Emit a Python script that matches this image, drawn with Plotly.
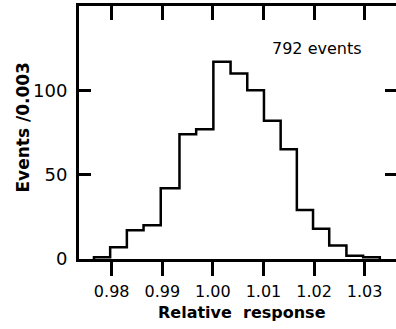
import plotly.graph_objects as go

# Bin edges (relative response) and counts
bin_edges = [0.9765, 0.9797, 0.9830, 0.9863, 0.9897, 0.9934, 0.9967, 1.0001, 1.0035,
             1.0068, 1.0101, 1.0134, 1.0166, 1.0198, 1.0230, 1.0264, 1.0297, 1.0330]
counts = [1, 7, 17, 20, 42, 74, 77, 117, 110, 100, 82, 65, 29, 18, 8, 2, 1]

x_tickvals = [0.98, 0.99, 1.00, 1.01, 1.02, 1.03]
x_ticktext = ["0.98", "0.99", "1.00", "1.01", "1.02", "1.03"]
y_tickvals = [0, 50, 100]
y_ticktext = ["0", "50", "100"]
x_range = [0.97354, 1.0362]
y_range = [0, 150]

FONT = "DejaVu Sans"

# step outline: start at baseline, then hv steps, drop to baseline at last edge
xs = [bin_edges[0]] + bin_edges
ys = [0] + counts + [0]

fig = go.Figure()
fig.add_trace(go.Scatter(x=xs, y=ys, mode="lines", line=dict(shape="hv", color="black", width=2.5),
                         hoverinfo="skip", showlegend=False))
fig.add_trace(go.Scatter(x=[], y=[], xaxis="x2", yaxis="y2", showlegend=False))

fig.add_annotation(x=1.0206, y=125, xref="x", yref="y", text="792 events", showarrow=False,
                   font=dict(family=FONT, size=16, color="black"))
fig.add_annotation(x=0.5155, y=-0.2134, xref="paper", yref="paper", text="Relative  response",
                   showarrow=False, xanchor="center", yanchor="middle",
                   font=dict(family=FONT, size=16, color="black", weight="bold"))
fig.add_annotation(x=-0.178, y=0.518, xref="paper", yref="paper", text="Events /0.003",
                   showarrow=False, xanchor="center", yanchor="middle", textangle=-90,
                   font=dict(family=FONT, size=17, color="black", weight="bold"))

fig.update_layout(
    width=396, height=329,
    margin=dict(l=79, r=0, t=6, b=70, autoexpand=False),
    paper_bgcolor="white", plot_bgcolor="white",
    font=dict(family=FONT, color="black"),
    xaxis=dict(range=x_range, tickvals=x_tickvals, ticktext=x_ticktext, automargin=False,
               ticks="outside", ticklen=14, tickwidth=2.5, tickcolor="black",
               showline=True, linewidth=3, linecolor="black",
               showgrid=False, zeroline=False, ticklabelstandoff=2,
               tickfont=dict(family=FONT, size=16, color="black")),
    yaxis=dict(range=y_range, tickvals=y_tickvals, ticktext=y_ticktext, automargin=False,
               ticks="inside", ticklen=12, tickwidth=2.5, tickcolor="black",
               showline=True, linewidth=3, linecolor="black",
               showgrid=False, zeroline=False, ticklabelstandoff=5,
               tickfont=dict(family=FONT, size=18, color="black")),
    xaxis2=dict(range=x_range, overlaying="x", side="top", anchor="y2", automargin=False,
                tickvals=x_tickvals, showticklabels=False,
                ticks="inside", ticklen=14, tickwidth=2.5, tickcolor="black",
                showline=True, linewidth=3, linecolor="black",
                showgrid=False, zeroline=False),
    yaxis2=dict(range=y_range, overlaying="y", side="right", anchor="x2", automargin=False,
                tickvals=[50, 100], showticklabels=False,
                ticks="inside", ticklen=11, tickwidth=2.5, tickcolor="black",
                showline=False, showgrid=False, zeroline=False),
)

fig.write_html("out.html", config={"displayModeBar": False},
               post_script="document.body.style.margin='0';document.body.style.padding='0';")
